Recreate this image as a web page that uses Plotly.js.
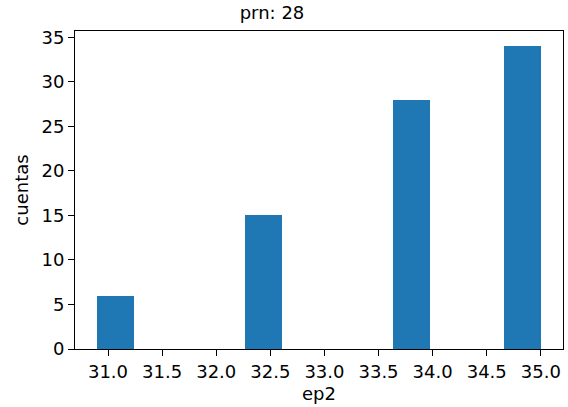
<!DOCTYPE html>
<html>
<head>
<meta charset="utf-8">
<script src="https://cdn.plot.ly/plotly-3.0.1.min.js"></script>
<style>html,body{margin:0;padding:0;background:#fff;}#chart{width:568px;height:407px;}</style>
</head>
<body>
<div id="chart"></div>
<script>
// Histogram bins (12 bins from 30.9 to 35.0), centers and counts
const binCenters = [31.071, 31.413, 31.754, 32.096, 32.438, 32.779, 33.121, 33.463, 33.804, 34.146, 34.488, 34.829];
const binWidth = 0.3417;
const counts = [6, 0, 0, 0, 15, 0, 0, 0, 28, 0, 0, 34];
const xTickVals = [31.0, 31.5, 32.0, 32.5, 33.0, 33.5, 34.0, 34.5, 35.0];
const xTickText = ['31.0', '31.5', '32.0', '32.5', '33.0', '33.5', '34.0', '34.5', '35.0'];
const yTickVals = [0, 5, 10, 15, 20, 25, 30, 35];
const titleText = 'prn: 28';
const xLabel = 'ep2';
const yLabel = 'cuentas';

const font = {family: 'DejaVu Sans', size: 18, color: '#000'};

Plotly.newPlot('chart', [{
  type: 'bar',
  x: binCenters,
  y: counts,
  width: binWidth,
  marker: {color: '#1f77b4', line: {width: 0}},
  hoverinfo: 'x+y'
}], {
  width: 568, height: 407,
  margin: {l: 75, r: 5, t: 31, b: 58},
  paper_bgcolor: '#fff', plot_bgcolor: '#fff',
  font: font,
  showlegend: false,
  bargap: 0,
  title: {text: titleText, font: font, x: 272/568, xref: 'container', xanchor: 'center', y: 1 - 13/407, yref: 'container', yanchor: 'middle'},
  xaxis: {
    range: [30.695, 35.205],
    tickvals: xTickVals, ticktext: xTickText,
    showgrid: false, zeroline: false,
    showline: true, mirror: true, linecolor: '#000', linewidth: 1,
    ticks: 'outside', ticklen: 6, tickcolor: '#000', tickwidth: 1,
    tickfont: font,
    title: {text: xLabel, font: font, standoff: 6}
  },
  yaxis: {
    range: [0, 35.7],
    tickvals: yTickVals,
    showgrid: false, zeroline: false,
    showline: true, mirror: true, linecolor: '#000', linewidth: 1,
    ticks: 'outside', ticklen: 6, tickcolor: '#000', tickwidth: 1,
    tickfont: font,
    title: {text: yLabel, font: font, standoff: 8}
  }
}, {displayModeBar: false, staticPlot: true});
</script>
</body>
</html>
